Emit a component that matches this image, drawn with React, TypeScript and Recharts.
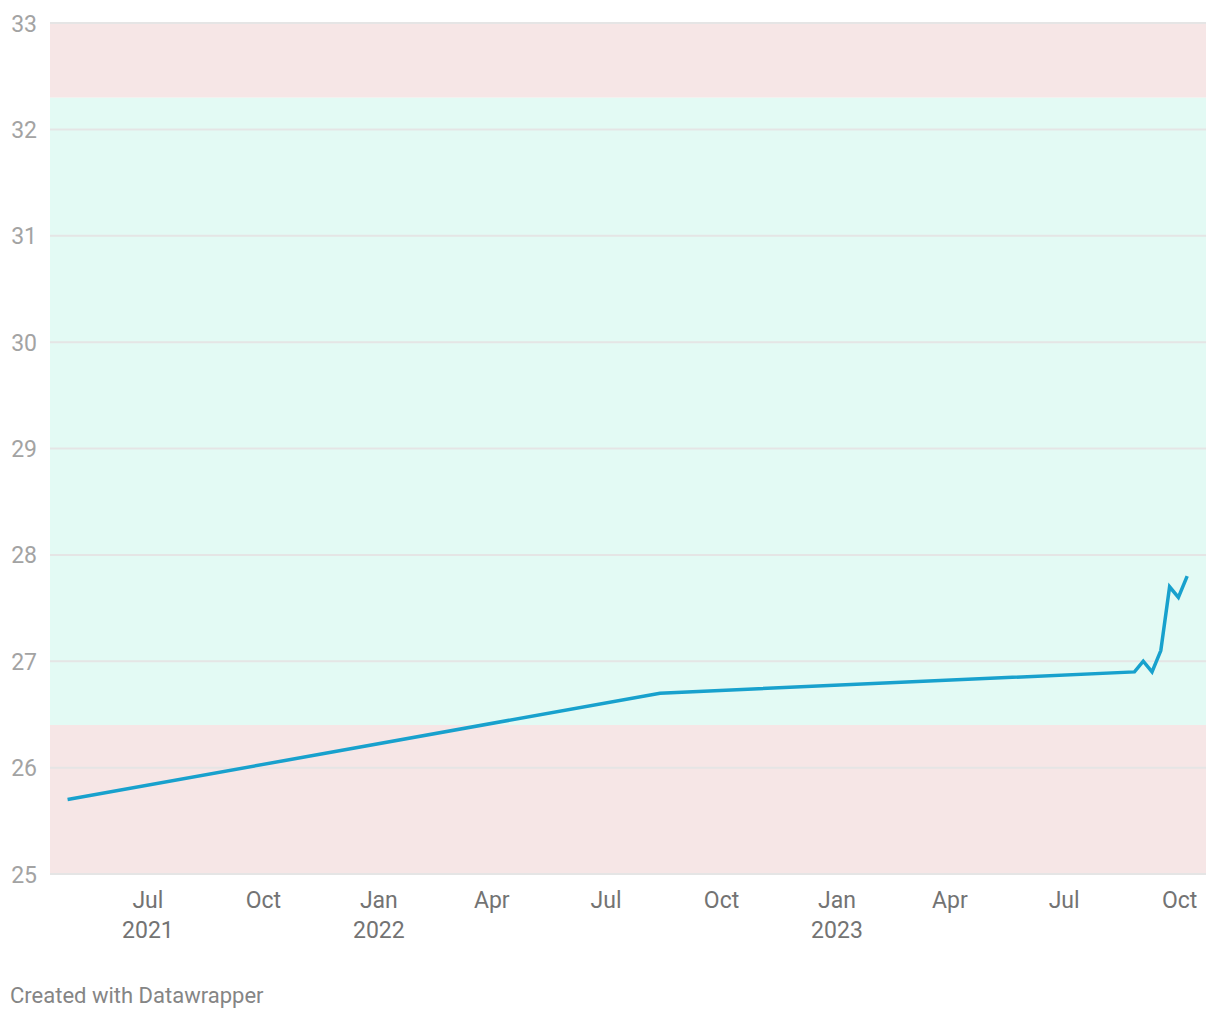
import React from "react";
import {
  LineChart,
  Line,
  XAxis,
  YAxis,
  ReferenceArea,
  ReferenceLine,
} from "recharts";

// weekly-ish readings, dates as ISO strings
const DATES = [
  "2021-04-28",
  "2022-08-13",
  "2023-08-26",
  "2023-09-02",
  "2023-09-09",
  "2023-09-16",
  "2023-09-23",
  "2023-09-30",
  "2023-10-07",
];
const VALUES = [25.7, 26.7, 26.9, 27.0, 26.9, 27.1, 27.7, 27.6, 27.8];

const Y_TICKS = [25, 26, 27, 28, 29, 30, 31, 32, 33];
const X_TICK_DATES = [
  "2021-07-01",
  "2021-10-01",
  "2022-01-01",
  "2022-04-01",
  "2022-07-01",
  "2022-10-01",
  "2023-01-01",
  "2023-04-01",
  "2023-07-01",
  "2023-10-01",
];
const MONTHS = ["Jan", "Feb", "Mar", "Apr", "May", "Jun", "Jul", "Aug", "Sep", "Oct", "Nov", "Dec"];

// target range bands
const LOW_BAND = [25, 26.4];
const OK_BAND = [26.4, 32.3];
const HIGH_BAND = [32.3, 33];

const ts = (d: string) => new Date(d + "T00:00:00Z").getTime();
const DAY = 86400000;

const data = DATES.map((d, i) => ({ t: ts(d), value: VALUES[i] }));
const xTicks = X_TICK_DATES.map(ts);
const xDomain = [data[0].t - 14 * DAY, data[data.length - 1].t + 15 * DAY];

const FONT = "Roboto, 'Noto Sans', sans-serif";

function XTick({ x, y, payload, index }: any) {
  const d = new Date(payload.value);
  const m = d.getUTCMonth();
  const showYear = index === 0 || m === 0;
  return (
    <g>
      <text x={x} y={y + 34} textAnchor="middle" fontSize={23} fill="#737373" fontFamily={FONT}>
        {MONTHS[m]}
      </text>
      {showYear && (
        <text x={x} y={y + 64} textAnchor="middle" fontSize={23} fill="#737373" fontFamily={FONT}>
          {d.getUTCFullYear()}
        </text>
      )}
    </g>
  );
}

function YTick({ y, payload }: any) {
  return (
    <text x={37} y={y + 8.5} textAnchor="end" fontSize={23} fill="#a3a3a3" fontFamily={FONT}>
      {payload.value}
    </text>
  );
}

export default function App() {
  return (
    <div style={{ position: "absolute", left: 0, top: 0, width: 1220, height: 1020, background: "#fff" }}>
      <LineChart
        width={1220}
        height={960}
        data={data}
        margin={{ top: 23, right: 14, left: 0, bottom: 26 }}
      >
        <XAxis
          dataKey="t"
          type="number"
          scale="time"
          domain={xDomain}
          ticks={xTicks}
          tick={<XTick />}
          tickLine={false}
          axisLine={false}
          tickSize={0}
          tickMargin={0}
          height={60}
          interval={0}
        />
        <YAxis
          domain={[25, 33]}
          ticks={Y_TICKS}
          tick={<YTick />}
          tickLine={false}
          axisLine={false}
          width={50}
          interval={0}
        />
        <ReferenceArea y1={LOW_BAND[0]} y2={LOW_BAND[1]} fill="#f6e6e6" fillOpacity={1} stroke="none" />
        <ReferenceArea y1={OK_BAND[0]} y2={OK_BAND[1]} fill="#e3faf4" fillOpacity={1} stroke="none" />
        <ReferenceArea y1={HIGH_BAND[0]} y2={HIGH_BAND[1]} fill="#f6e6e6" fillOpacity={1} stroke="none" />
        {Y_TICKS.map((v) => (
          <ReferenceLine key={v} y={v} stroke="#e5e5e5" strokeWidth={2} />
        ))}
        <Line
          dataKey="value"
          type="linear"
          stroke="#18a1cd"
          strokeWidth={3.5}
          dot={false}
          isAnimationActive={false}
        />
      </LineChart>
      <div
        style={{
          position: "absolute",
          left: 10,
          top: 983,
          fontFamily: FONT,
          fontSize: 22,
          lineHeight: "26px",
          color: "#858585",
        }}
      >
        Created with Datawrapper
      </div>
    </div>
  );
}
